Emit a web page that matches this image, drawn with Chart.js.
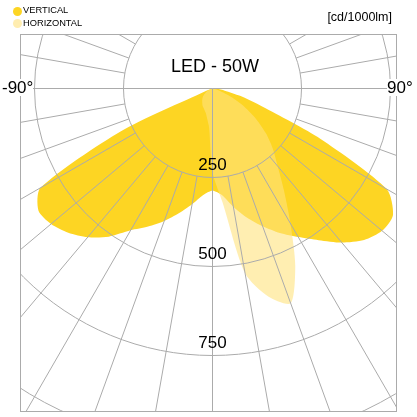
<!DOCTYPE html>
<html>
<head>
<meta charset="utf-8">
<script src="https://cdn.jsdelivr.net/npm/chart.js@4.4.1/dist/chart.umd.min.js"></script>
<style>
  html, body { margin: 0; padding: 0; background: #fff; }
  #wrap { position: relative; width: 417px; height: 417px; font-family: "Liberation Sans", Arial, sans-serif; color: #000; }
  #polar-chart { position: absolute; left: 0; top: 0; }
  .lbl { position: absolute; white-space: nowrap; line-height: 1; }
  .dot { position: absolute; width: 9px; height: 9px; border-radius: 50%; }
</style>
</head>
<body>
<div id="wrap">
  <canvas id="polar-chart" width="417" height="417"></canvas>
  <div class="dot" style="left:13px;top:6.5px;background:#FDD523"></div>
  <div class="lbl" style="left:23px;top:6px;font-size:9.3px">VERTICAL</div>
  <div class="dot" style="left:13px;top:18.5px;background:#FFEDB0"></div>
  <div class="lbl" style="left:23px;top:18.6px;font-size:9.3px">HORIZONTAL</div>
  <div class="lbl" style="right:25px;top:10.6px;font-size:12.5px">[cd/1000lm]</div>
  <div class="lbl" style="left:115px;width:200px;text-align:center;top:57px;font-size:18px">LED - 50W</div>
  <div class="lbl" style="left:2px;top:78.5px;font-size:17px;background:#fff">-90°</div>
  <div class="lbl" style="left:387px;top:78.5px;font-size:17px;background:#fff">90°</div>
</div>
<script>
// angle of each spoke (deg from nadir), clockwise from the top
var angles = [180,175,170,165,160,155,150,145,140,135,130,125,120,115,110,105,100,95,
              90,85,80,75,70,65,60,55,50,45,40,35,30,25,20,15,10,5,
              0,-5,-10,-15,-20,-25,-30,-35,-40,-45,-50,-55,-60,-65,-70,-75,-80,-85,
              -90,-95,-100,-105,-110,-115,-120,-125,-130,-135,-140,-145,-150,-155,-160,-165,-170,-175];

// cd/1000lm
var vertical = [0,0,0,0,0,0,0,0,0,0,0,0,0,0,0,0,0,0,
                0,12,35,80,150,335,565,619,622,602,565,520,482,448,412,376,337,300,
                287,300,330,362,396,428,460,508,545,573,592,597,558,285,20,5,0,0,
                0,0,0,0,0,0,0,0,0,0,0,0,0,0,0,0,0,0];

var horizontal = [0,0,0,0,0,0,0,0,0,0,0,0,0,0,0,0,0,0,
                  0,0,5,15,32,62,105,150,196,240,285,350,438,550,642,605,527,320,
                  235,110,86,72,65,60,56,50,45,40,35,28,22,15,8,3,0,0,
                  0,0,0,0,0,0,0,0,0,0,0,0,0,0,0,0,0,0];

var rings = [250, 500, 750, 1000];
var ringLabels = [250, 500, 750];

var gridPlugin = {
  id: 'photoGrid',
  afterDatasetsDraw: function(chart) {
    var s = chart.scales.r, a = chart.chartArea, ctx = chart.ctx;
    ctx.save();
    ctx.beginPath();
    ctx.rect(a.left, a.top, a.right - a.left, a.bottom - a.top);
    ctx.clip();
    ctx.strokeStyle = '#ABABAB';
    ctx.lineWidth = 1;
    rings.forEach(function(v) {
      ctx.beginPath();
      ctx.arc(s.xCenter, s.yCenter, s.getDistanceFromCenterForValue(v), 0, Math.PI * 2);
      ctx.stroke();
    });
    angles.forEach(function(deg, i) {
      if (deg % 10 !== 0) return;
      var from = (deg === 0 || Math.abs(deg) === 90) ? 0 : rings[0];
      var p0 = s.getPointPositionForValue(i, from);
      var p1 = s.getPointPositionForValue(i, 1500);
      ctx.beginPath();
      ctx.moveTo(p0.x, p0.y);
      ctx.lineTo(p1.x, p1.y);
      ctx.stroke();
    });
    ctx.restore();

    ctx.save();
    ctx.strokeStyle = '#ABABAB';
    ctx.lineWidth = 1;
    ctx.strokeRect(a.left + 0.5, a.top + 0.5, a.right - a.left - 1, a.bottom - a.top - 1);
    ctx.fillStyle = '#000';
    ctx.font = '17px "Liberation Sans", Arial, sans-serif';
    ctx.textAlign = 'center';
    ctx.textBaseline = 'alphabetic';
    var nadir = angles.indexOf(0);
    ringLabels.forEach(function(v) {
      var p = s.getPointPositionForValue(nadir, v);
      ctx.fillText(String(v), p.x, p.y - 7.5);
    });
    ctx.restore();
  }
};

new Chart(document.getElementById('polar-chart'), {
  type: 'radar',
  data: {
    labels: angles,
    datasets: [
      {
        label: 'VERTICAL',
        data: vertical,
        backgroundColor: '#FDD523',
        borderColor: 'transparent',
        borderWidth: 0,
        pointRadius: 0,
        fill: 'origin',
        tension: 0.25,
        order: 2
      },
      {
        label: 'HORIZONTAL',
        data: horizontal,
        backgroundColor: 'rgba(255,226,125,0.6)',
        borderColor: 'transparent',
        borderWidth: 0,
        pointRadius: 0,
        fill: 'origin',
        tension: 0.25,
        order: 1
      }
    ]
  },
  options: {
    responsive: false,
    animation: false,
    layout: { padding: { left: 20, top: 34, right: 20, bottom: 5 } },
    plugins: { legend: { display: false }, tooltip: { enabled: false } },
    scales: {
      r: {
        min: 0,
        max: 1000,
        startAngle: 0,
        grid: { display: false },
        angleLines: { display: false },
        ticks: { display: false },
        pointLabels: { display: false },
        afterFit: function(scale) {
          var a = scale.chart.chartArea;
          scale.xCenter = a.left + 192.5;
          scale.yCenter = a.top + 54.5;
          scale.drawingArea = 356;
        }
      }
    }
  },
  plugins: [gridPlugin]
});
</script>
</body>
</html>
